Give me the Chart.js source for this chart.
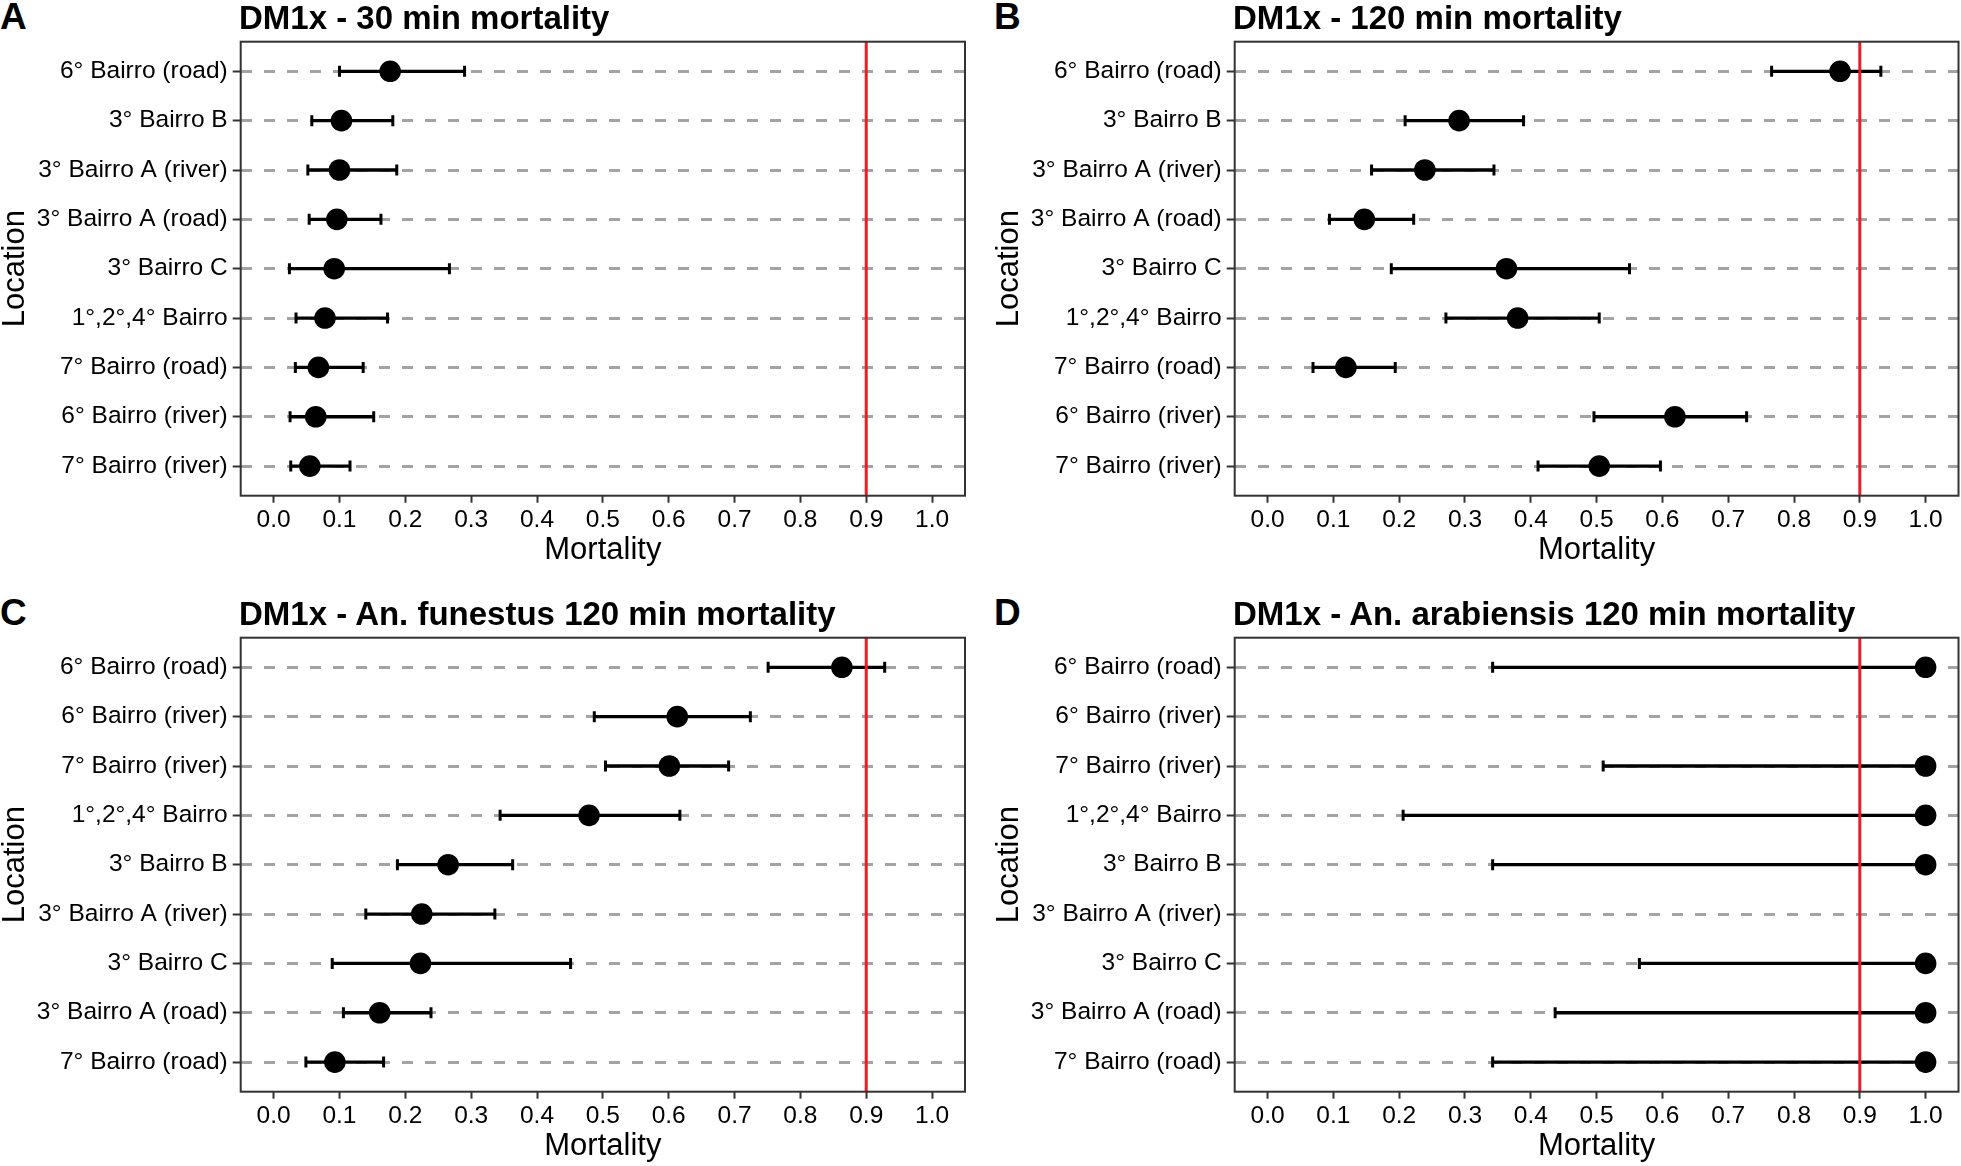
<!DOCTYPE html>
<html>
<head>
<meta charset="utf-8">
<script src="https://cdn.jsdelivr.net/npm/chart.js@4.4.1/dist/chart.umd.min.js"></script>
<style>
  html, body { margin: 0; padding: 0; background: #fff; overflow: hidden; }
  body { width: 1961px; height: 1166px; position: relative; font-family: 'Liberation Sans', Arial, sans-serif; }
  canvas { position: absolute; }
  .tag, .title { position: absolute; font-weight: bold; line-height: 1; color: #000; white-space: nowrap; }
  .tag { font-size: 37px; }
  .title { font-size: 33px; }
</style>
</head>
<body>

<script>
// categories (top to bottom)
const catsTop = ['6° Bairro (road)', '3° Bairro B', '3° Bairro A (river)', '3° Bairro A (road)', '3° Bairro C',
  '1°,2°,4° Bairro', '7° Bairro (road)', '6° Bairro (river)', '7° Bairro (river)'];
const catsBottom = ['6° Bairro (road)', '6° Bairro (river)', '7° Bairro (river)', '1°,2°,4° Bairro', '3° Bairro B',
  '3° Bairro A (river)', '3° Bairro C', '3° Bairro A (road)', '7° Bairro (road)'];

// A - 30 min
const meanA = [0.177, 0.103, 0.100, 0.096, 0.092, 0.078, 0.068, 0.064, 0.055];
const lowA  = [0.100, 0.058, 0.052, 0.054, 0.024, 0.034, 0.033, 0.025, 0.026];
const highA = [0.290, 0.181, 0.187, 0.163, 0.267, 0.173, 0.136, 0.152, 0.116];

// B - 120 min
const meanB = [0.870, 0.291, 0.239, 0.147, 0.363, 0.380, 0.119, 0.619, 0.504];
const lowB  = [0.766, 0.209, 0.158, 0.094, 0.188, 0.271, 0.069, 0.496, 0.411];
const highB = [0.932, 0.389, 0.344, 0.222, 0.550, 0.504, 0.194, 0.728, 0.597];

// C - An. funestus 120 min
const meanC = [0.863, 0.613, 0.601, 0.479, 0.265, 0.225, 0.223, 0.161, 0.093];
const lowC  = [0.751, 0.487, 0.504, 0.344, 0.188, 0.140, 0.089, 0.106, 0.049];
const highC = [0.928, 0.724, 0.691, 0.617, 0.363, 0.336, 0.451, 0.239, 0.167];

// D - An. arabiensis 120 min (no data for two sites)
const meanD = [1, null, 1, 1, 1, null, 1, 1, 1];
const lowD  = [0.342, null, 0.510, 0.206, 0.342, null, 0.565, 0.437, 0.342];
const highD = [1, null, 1, 1, 1, null, 1, 1, 1];

const xTicks = [0, 0.1, 0.2, 0.3, 0.4, 0.5, 0.6, 0.7, 0.8, 0.9, 1.0];
const threshold = 0.9;

const FONT = "'Liberation Sans', Arial, sans-serif";

const panels = [
  { tag: 'A', title: 'DM1x - 30 min mortality', cats: catsTop, mean: meanA, low: lowA, high: highA, left: 0, top: 0, padRight: 25 },
  { tag: 'B', title: 'DM1x - 120 min mortality', cats: catsTop, mean: meanB, low: lowB, high: highB, left: 994, top: 0, padRight: 25.5 },
  { tag: 'C', title: 'DM1x - An. funestus 120 min mortality', cats: catsBottom, mean: meanC, low: lowC, high: highC, left: 0, top: 596, padRight: 25 },
  { tag: 'D', title: 'DM1x - An. arabiensis 120 min mortality', cats: catsBottom, mean: meanD, low: lowD, high: highD, left: 994, top: 596, padRight: 25.5 }
];

// error bars under the points, red line + frame on top
const errorBars = {
  id: 'errorBars',
  beforeDatasetsDraw(chart, args, opts) {
    const { ctx, scales: { x, y } } = chart;
    ctx.save();
    ctx.strokeStyle = '#000';
    for (let i = 0; i < opts.low.length; i++) {
      if (opts.low[i] == null) continue;
      const x1 = x.getPixelForValue(opts.low[i]);
      const x2 = x.getPixelForValue(opts.high[i]);
      const yy = y.getPixelForValue(i);
      ctx.lineWidth = 3.3;
      ctx.beginPath();
      ctx.moveTo(x1, yy); ctx.lineTo(x2, yy);
      ctx.stroke();
      ctx.lineWidth = 3;
      ctx.beginPath();
      ctx.moveTo(x1, yy - 5.5); ctx.lineTo(x1, yy + 5.5);
      ctx.moveTo(x2, yy - 5.5); ctx.lineTo(x2, yy + 5.5);
      ctx.stroke();
    }
    ctx.restore();
  },
  afterDatasetsDraw(chart) {
    const { ctx, chartArea: a, scales: { x } } = chart;
    ctx.save();
    const xr = x.getPixelForValue(threshold);
    ctx.strokeStyle = '#ec1c24';
    ctx.lineWidth = 3;
    ctx.beginPath();
    ctx.moveTo(xr, a.top); ctx.lineTo(xr, a.bottom);
    ctx.stroke();
    ctx.strokeStyle = '#333';
    ctx.lineWidth = 2;
    ctx.strokeRect(a.left, a.top, a.right - a.left, a.bottom - a.top);
    ctx.restore();
  }
};

panels.forEach(p => {
  const tag = document.createElement('div');
  tag.className = 'tag';
  tag.textContent = p.tag;
  tag.style.left = p.left + 'px';
  tag.style.top = (p.top - 2) + 'px';
  document.body.appendChild(tag);

  const canvas = document.createElement('canvas');
  canvas.width = 990;
  canvas.height = 583;
  canvas.style.left = p.left + 'px';
  canvas.style.top = p.top + 'px';
  canvas.style.width = '990px';
  canvas.style.height = '583px';
  document.body.appendChild(canvas);

  const title = document.createElement('div');
  title.className = 'title';
  title.textContent = p.title;
  title.style.left = (p.left + 239) + 'px';
  title.style.top = (p.top + 1.4) + 'px';
  document.body.appendChild(title);

  const pts = [];
  p.mean.forEach((m, i) => { if (m != null) pts.push({ x: m, y: i }); });

  new Chart(canvas, {
    type: 'scatter',
    data: {
      datasets: [{
        data: pts,
        backgroundColor: '#000',
        borderWidth: 0,
        pointRadius: 10.8,
        pointHoverRadius: 10.8
      }]
    },
    options: {
      responsive: false,
      animation: false,
      devicePixelRatio: 1,
      layout: { padding: { top: 41.7, right: p.padRight, left: 0, bottom: 0 } },
      plugins: {
        legend: { display: false },
        tooltip: { enabled: false },
        errorBars: { low: p.low, high: p.high }
      },
      scales: {
        x: {
          type: 'linear',
          min: -0.05,
          max: 1.05,
          afterBuildTicks: s => { s.ticks = xTicks.map(v => ({ value: v })); },
          afterFit: s => { s.height = 87.3; s.paddingLeft = 0; s.paddingRight = 0; },
          ticks: {
            callback: v => v.toFixed(1),
            color: '#000',
            font: { family: FONT, size: 24.5 },
            padding: 3,
            maxRotation: 0
          },
          grid: { drawOnChartArea: false, tickLength: 7, tickColor: '#333', tickWidth: 2 },
          border: { display: false },
          title: {
            display: true, text: 'Mortality', color: '#000',
            font: { family: FONT, size: 31 }, padding: { top: 0, bottom: 14 }
          }
        },
        y: {
          type: 'linear',
          reverse: true,
          min: -0.6,
          max: p.cats.length - 0.4,
          afterBuildTicks: s => { s.ticks = p.cats.map((c, i) => ({ value: i })); },
          afterFit: s => { s.width = 240.7; s.paddingTop = 0; s.paddingBottom = 0; },
          ticks: {
            callback: v => p.cats[v],
            color: '#000',
            font: { family: FONT, size: 24.5 },
            padding: 5
          },
          grid: { color: '#a3a3a3', lineWidth: 3, tickLength: 8, tickColor: '#333', tickWidth: 2 },
          border: { display: false, dash: [11, 12] },
          title: {
            display: true, text: 'Location', color: '#000',
            font: { family: FONT, size: 31 }, padding: { top: -3, bottom: 0 }
          }
        }
      }
    },
    plugins: [errorBars]
  });
});
</script>
</body>
</html>
